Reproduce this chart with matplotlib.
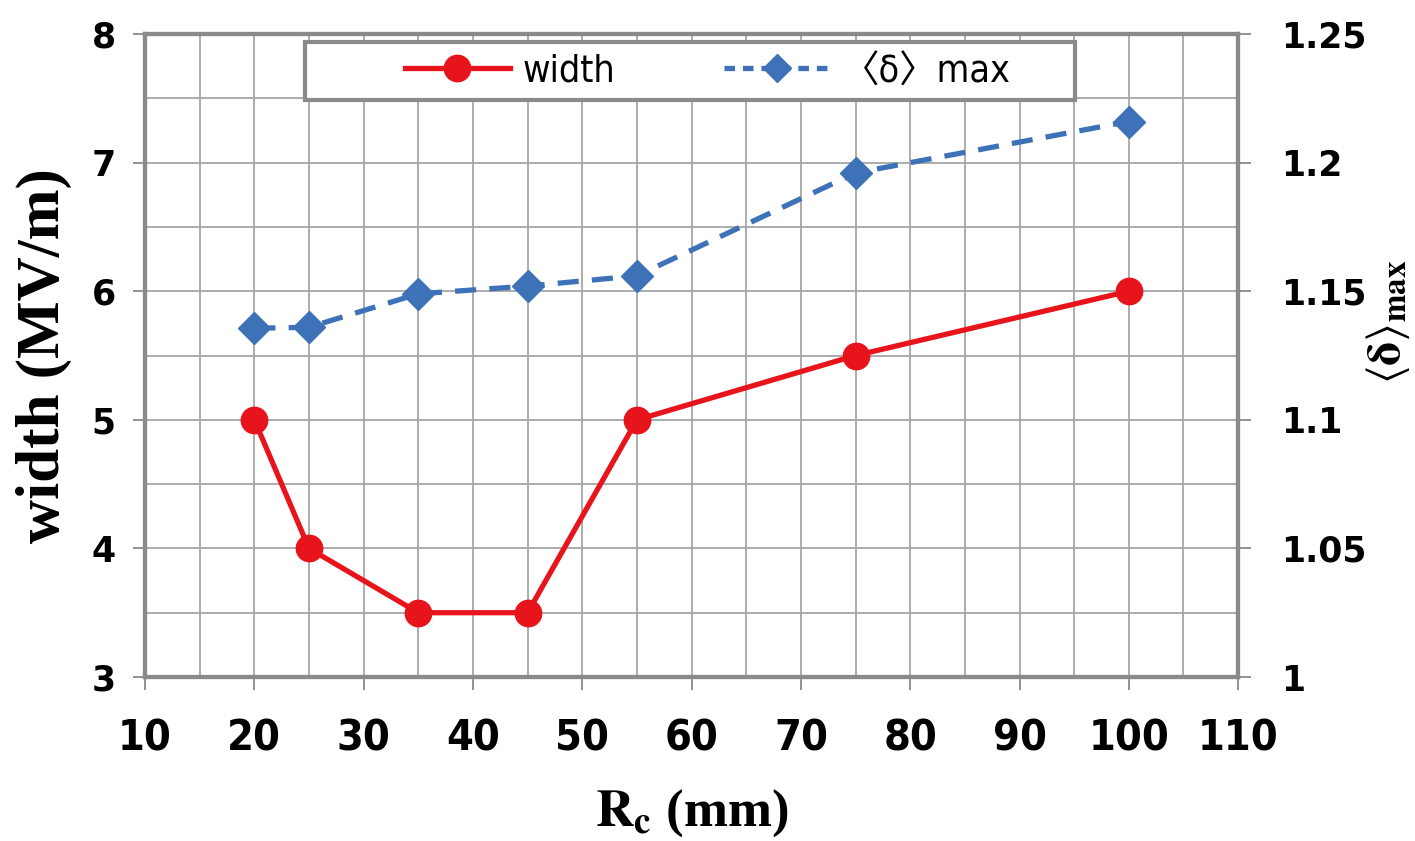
import matplotlib
matplotlib.use("Agg")
import matplotlib.pyplot as plt
from matplotlib.lines import Line2D
from matplotlib.patches import Rectangle
from matplotlib.ticker import MultipleLocator

# data
rc_mm = [20, 25, 35, 45, 55, 75, 100]
width_mv = [5.0, 4.0, 3.5, 3.5, 5.0, 5.5, 6.0]
delta_max = [1.1356, 1.136, 1.149, 1.152, 1.156, 1.196, 1.216]

x_ticks = [10, 20, 30, 40, 50, 60, 70, 80, 90, 100, 110]
left_ticks = [3, 4, 5, 6, 7, 8]
right_ticks = [1, 1.05, 1.1, 1.15, 1.2, 1.25]
right_labels = ['1', '1.05', '1.1', '1.15', '1.2', '1.25']

plt.rcParams['mathtext.fontset'] = 'stix'

red = '#e8141c'
blue = '#3d72b8'
frame_gray = '#8a8a8a'
grid_gray = '#a6a6a6'

fig = plt.figure(figsize=(14.15, 8.41), dpi=100)
ax = fig.add_axes([0.1025, 0.195, 0.7725, 0.7645])
ax2 = ax.twinx()

# grid every 5 mm / 0.5 MV/m
ax.set_xlim(10, 110)
ax.set_ylim(3, 8)
ax.xaxis.set_minor_locator(MultipleLocator(5))
ax.yaxis.set_minor_locator(MultipleLocator(0.5))
ax.grid(True, which='both', color=grid_gray, linewidth=1.3)
ax.set_axisbelow(True)

ax.plot(rc_mm, width_mv, color=red, linewidth=3.8, marker='o', markersize=19,
        markerfacecolor=red, markeredgecolor=red, zorder=3)
ax2.plot(rc_mm, delta_max, color=blue, linewidth=3.8, linestyle=(0, (4, 2.5)),
         marker='D', markersize=16, markerfacecolor=blue, markeredgecolor=blue, zorder=3)

ax2.set_ylim(1, 1.25)

# ticks
ax.set_xticks(x_ticks)
ax.set_xticklabels([str(v) for v in x_ticks], family='DejaVu Sans', stretch='condensed',
                   fontweight='bold', fontsize=31)
ax.set_yticks(left_ticks)
ax.set_yticklabels([str(v) for v in left_ticks], family='DejaVu Sans', fontweight='bold', fontsize=25)
ax2.set_yticks(right_ticks)
ax2.set_yticklabels(right_labels, family='DejaVu Sans', fontweight='bold', fontsize=25)
ax.tick_params(which='major', direction='out', length=9, width=1.3, color=frame_gray, pad=12)
ax.tick_params(which='minor', length=0)
ax.tick_params(axis='x', pad=20)
ax2.tick_params(direction='out', length=9, width=1.3, color=frame_gray, pad=22)

for a in (ax, ax2):
    for s in a.spines.values():
        s.set_color(frame_gray)
        s.set_linewidth(3)

ax.set_xlabel(r'$\mathbf{R_c}$ (mm)', family='Liberation Serif', fontweight='bold', fontsize=38, labelpad=20)
ax.set_ylabel('width (MV/m)', family='Liberation Serif', fontweight='bold', fontsize=44, labelpad=14)
fig.text(1388 / 1415, 1 - 322 / 841, r'$\langle\mathbf{\delta}\rangle_{\mathbf{max}}$',
         fontsize=34, rotation=90, ha='center', va='center')

# legend box
ax2.add_patch(Rectangle((0.146, 0.897), 0.705, 0.0906, transform=ax2.transAxes,
                        facecolor='white', edgecolor=frame_gray, linewidth=3, zorder=5))
handles = [
    Line2D([], [], color=red, linewidth=3.8, marker='o', markersize=19),
    Line2D([], [], color=blue, linewidth=3.8, linestyle=(0, (2, 1.5)), marker='D', markersize=14),
]
leg = ax2.legend(handles, ['width', '〈δ〉max'], loc='center', bbox_to_anchor=(0.515, 0.942),
                 ncol=2, frameon=False, handlelength=2.8, handletextpad=0.35, columnspacing=2.9,
                 prop={'family': ['DejaVu Sans', 'Noto Sans CJK JP'], 'stretch': 'condensed', 'size': 27})
leg.set_zorder(6)

fig.savefig('out.png', dpi=100)
